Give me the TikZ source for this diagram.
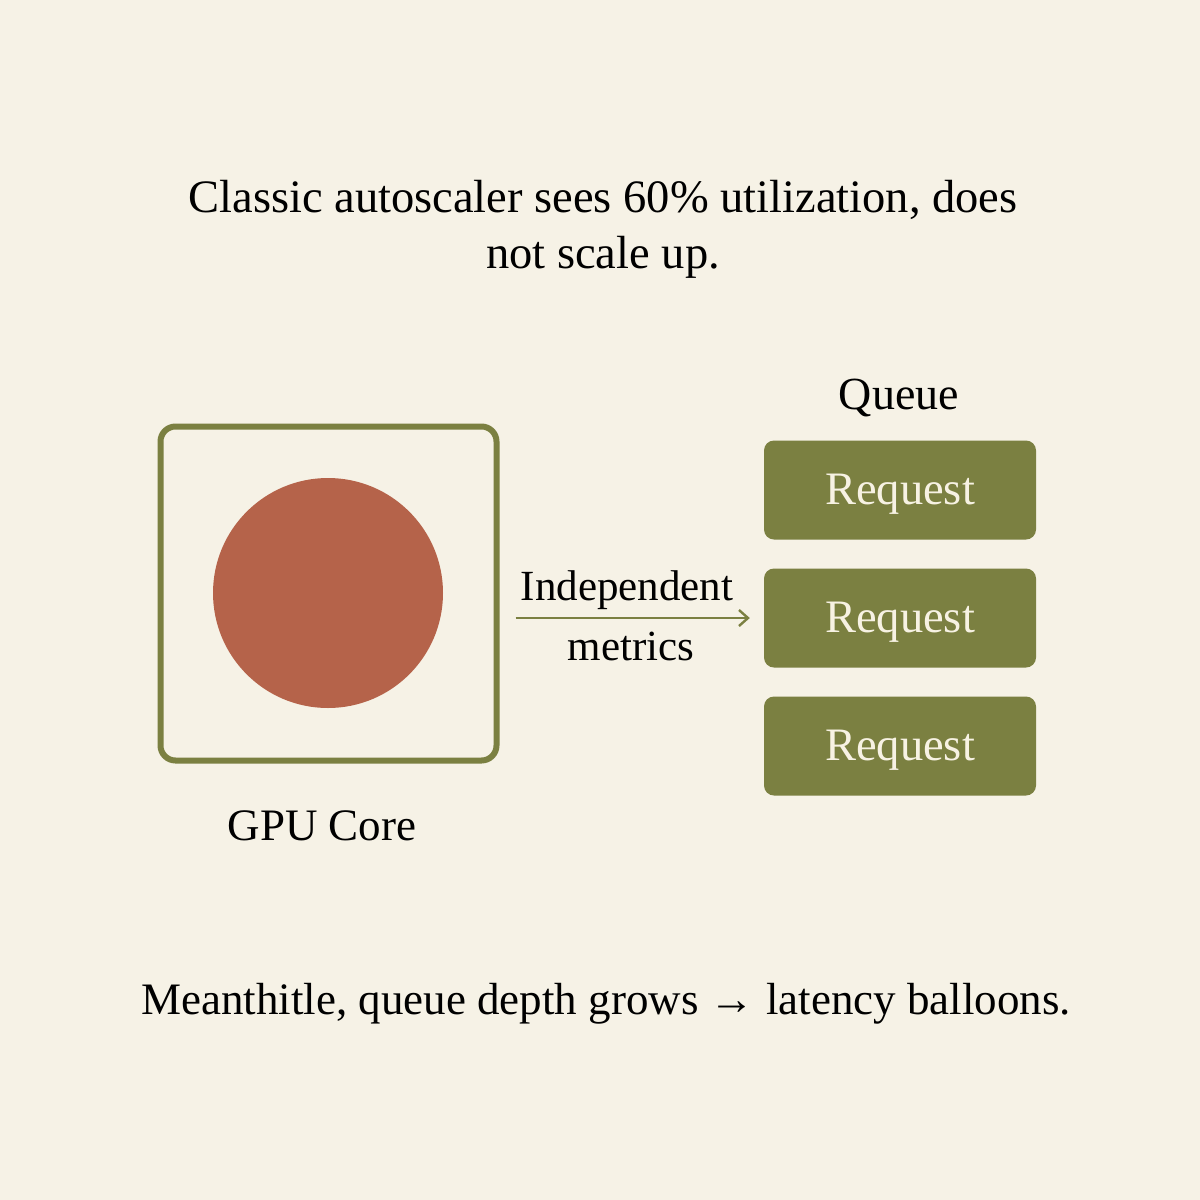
\documentclass[tikz,border=0pt]{standalone}
\usepackage{fontspec}
\setmainfont{Liberation Serif}
\usetikzlibrary{arrows.meta}
\definecolor{bgc}{HTML}{F6F2E6}
\definecolor{olive}{HTML}{7B8041}
\definecolor{rust}{HTML}{B5634A}
\definecolor{cream}{HTML}{F7F2E3}
\begin{document}
\begin{tikzpicture}[x=1pt,y=-1pt,
  txt/.style={font=\fontsize{45}{56}\selectfont, text=black, inner sep=0pt, align=center},
  reqbox/.style={fill=olive, rounded corners=10pt, minimum width=272pt, minimum height=99pt, inner sep=0pt,
     text height=36pt, text depth=7pt, text=cream, font=\fontsize{46.5}{50}\selectfont},
  gpubox/.style={draw=olive, line width=6pt, rounded corners=15pt, minimum width=336pt, minimum height=334pt, inner sep=0pt},
  conn/.style={draw=olive, line width=2.4pt, -{Straight Barb[length=9pt,width=16pt,line width=2.4pt]}}
]
\useasboundingbox[fill=bgc] (0,0) rectangle (1200,1200);
\node[txt, font=\fontsize{46.5}{56}\selectfont] (title) at (603,229) {Classic autoscaler sees 60\% utilization, does\\not scale up.};
\node[gpubox] (gpu) at (328.5,593.5) {};
\node[fill=rust, circle, minimum size=230pt, inner sep=0pt] (core) at (328,593) {};
\node[txt] (gpulbl) at (322,826) {GPU Core};
\node[txt, font=\fontsize{46}{56}\selectfont] (queue) at (899,398) {Queue};
\node[reqbox] (r1) at (900,490) {Request};
\node[reqbox] (r2) at (900,618) {Request};
\node[reqbox] (r3) at (900,746) {Request};
\coordinate (as) at ([xshift=16pt]gpu.east |- r2.west);
\coordinate (ae) at ([xshift=-14pt]r2.west);
\draw[conn] (as) -- (ae);
\node[txt, font=\fontsize{43}{56}\selectfont] (ind) at (627,590) {Independent};
\node[txt, font=\fontsize{43}{56}\selectfont] (met) at (631,646) {metrics};
\node[txt] (foot) at (606,1004) {Meanthitle, queue depth grows → latency balloons.};
\end{tikzpicture}
\end{document}
